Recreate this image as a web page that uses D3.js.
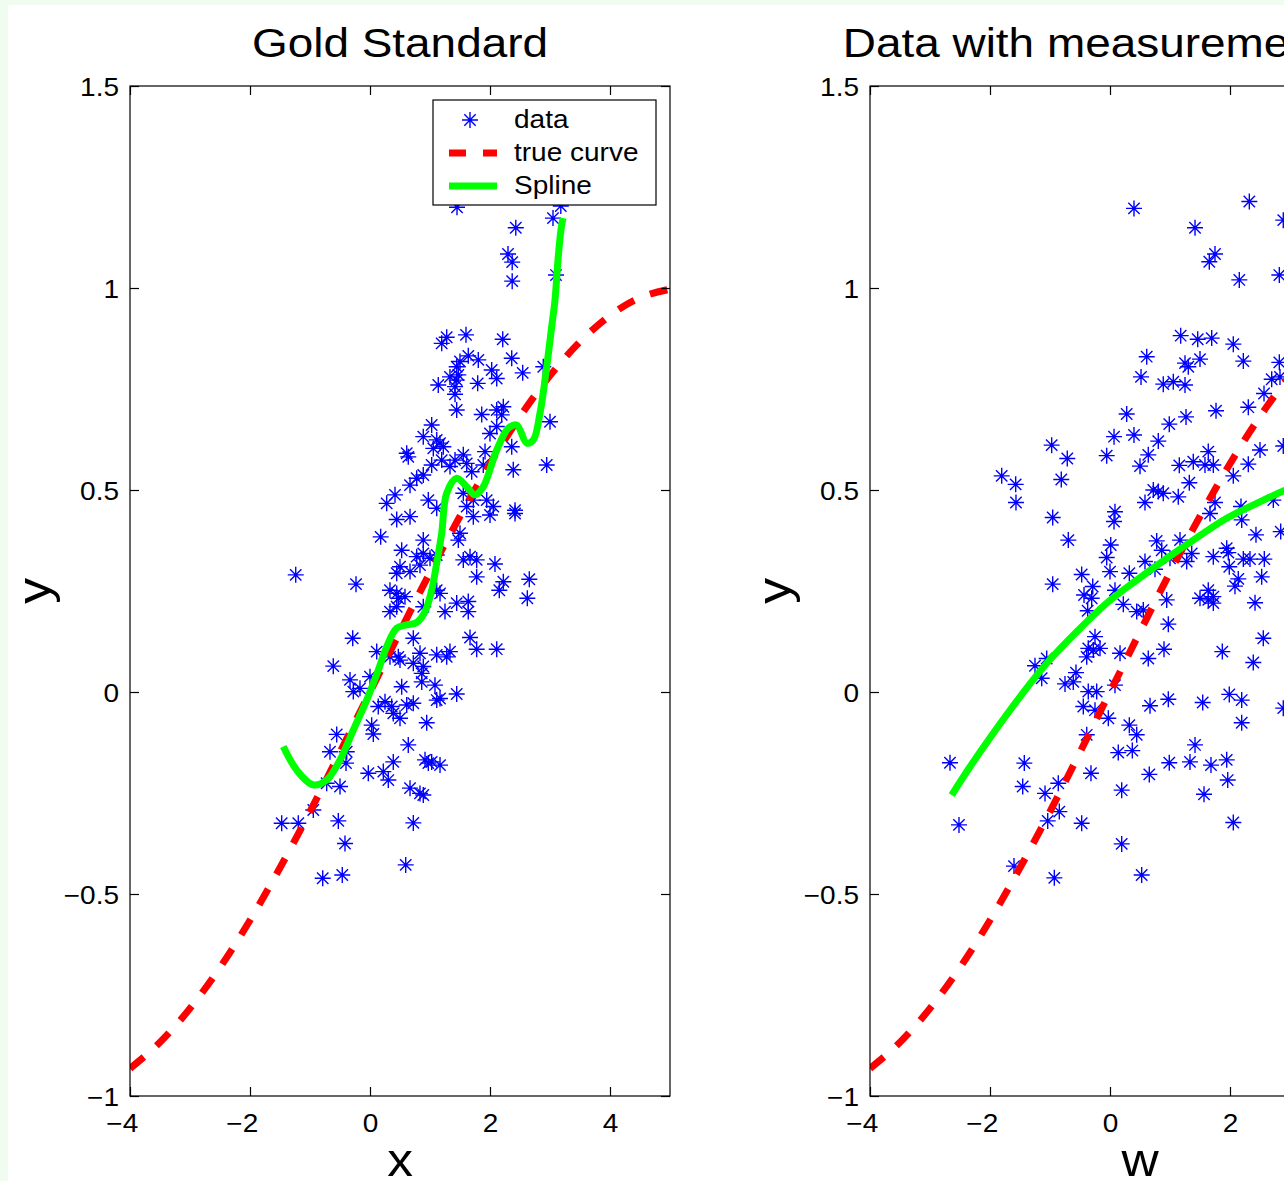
<!DOCTYPE html>
<html>
<head>
<meta charset="utf-8">
<script src="https://cdn.jsdelivr.net/npm/d3@7/dist/d3.min.js"></script>
<style>
  body { margin: 0; background: #f0fcf0; overflow: hidden; }
  svg { display: block; }
  text { font-family: "Liberation Sans", Arial, sans-serif; fill: #000; }
</style>
</head>
<body>
<div id="chart"></div>
<script>
// values
var xTicks = [-4, -2, 0, 2, 4];
var xTickLabels = ["\u22124", "\u22122", "0", "2", "4"];
var yTicks = [-1, -0.5, 0, 0.5, 1, 1.5];
var yTickLabels = ["\u22121", "\u22120.5", "0", "0.5", "1", "1.5"];

var legendNames = ["data", "true curve", "Spline"];

// true curve, same in both panels
var trueX = [-4, -3.5, -3, -2.5, -2, -1.5, -1, -0.5, 0, 0.5, 1, 1.5, 2, 2.5, 3, 3.5, 4, 4.5, 5];
var trueY = [-0.932, -0.867, -0.783, -0.682, -0.565, -0.435, -0.296, -0.149, 0, 0.149, 0.296, 0.435,
    0.565, 0.682, 0.783, 0.867, 0.932, 0.976, 0.997];

// left panel: x, y
var goldData = [
    [1.45, 1.20], [2.43, 1.149], [2.30, 1.084], [2.37, 1.064], [2.37, 1.017], [3.05, 1.173], [3.10, 1.032], [3.18, 1.203],
    [1.278, 0.878], [1.195, 0.863], [1.60, 0.884], [2.212, 0.873], [1.50, 0.818], [1.638, 0.832], [1.805, 0.822],
    [1.445, 0.805], [2.028, 0.797], [2.112, 0.776], [2.362, 0.826], [2.545, 0.790], [2.888, 0.805], [1.333, 0.780],
    [1.445, 0.772], [1.472, 0.785], [1.417, 0.756], [1.138, 0.760], [1.795, 0.764], [1.417, 0.737], [1.445, 0.698],
    [1.862, 0.687], [2.112, 0.698], [2.222, 0.706], [2.195, 0.686], [1.028, 0.661], [0.888, 0.632], [1.112, 0.624],
    [1.167, 0.616], [1.222, 0.607], [1.055, 0.603], [2.0, 0.640], [2.112, 0.657], [2.362, 0.607], [3.0, 0.669],
    [0.612, 0.591], [0.638, 0.582], [1.555, 0.587], [1.612, 0.566], [1.417, 0.574], [1.917, 0.595], [1.888, 0.562],
    [1.028, 0.562], [1.195, 0.574], [1.333, 0.558], [2.388, 0.550], [2.945, 0.562], [0.888, 0.537], [0.778, 0.529],
    [0.667, 0.512], [1.695, 0.545], [0.278, 0.467], [0.417, 0.488], [0.445, 0.427], [0.667, 0.434], [0.972, 0.475],
    [1.112, 0.455], [1.555, 0.492], [1.722, 0.475], [1.612, 0.459], [1.945, 0.475], [2.055, 0.459], [2.0, 0.438],
    [1.722, 0.434], [2.417, 0.450], [2.417, 0.442], [0.178, 0.384], [0.528, 0.351], [0.888, 0.376], [1.472, 0.376],
    [1.50, 0.393], [0.778, 0.335], [0.888, 0.343], [1.0, 0.331], [1.112, 0.339], [0.50, 0.310], [0.667, 0.298],
    [0.445, 0.294], [0.833, 0.314], [1.555, 0.327], [1.667, 0.335], [1.778, 0.327], [2.083, 0.317], [1.778, 0.285],
    [2.222, 0.273], [2.155, 0.252], [2.655, 0.279], [2.622, 0.232], [-1.238, 0.290], [-0.233, 0.267], [0.333, 0.252],
    [0.445, 0.244], [0.472, 0.232], [0.583, 0.236], [0.333, 0.199], [0.445, 0.211], [1.112, 0.252], [1.167, 0.244],
    [1.25, 0.199], [1.445, 0.220], [1.638, 0.224], [1.638, 0.199], [0.888, 0.211], [0.722, 0.133], [-0.288, 0.133],
    [0.112, 0.100], [0.333, 0.087], [0.472, 0.087], [0.50, 0.079], [0.833, 0.096], [0.722, 0.071], [0.888, 0.063],
    [1.112, 0.092], [1.278, 0.087], [1.333, 0.100], [1.667, 0.135], [1.778, 0.106], [2.112, 0.106], [-0.612, 0.064],
    [-0.333, 0.030], [-0.278, 0.001], [-0.167, 0.009], [0.0, 0.038], [0.862, 0.046], [0.862, 0.025], [0.528, 0.013],
    [1.083, 0.017], [1.112, -0.020], [1.167, -0.016], [1.445, -0.005], [0.25, -0.024], [0.138, -0.036], [0.362, -0.036],
    [0.50, -0.065], [0.388, -0.053], [0.612, -0.032], [0.722, -0.028], [0.945, -0.076], [0.028, -0.082], [0.055, -0.104],
    [-0.555, -0.105], [0.638, -0.131], [-0.667, -0.148], [-0.388, -0.148], [-0.40, -0.176], [0.388, -0.173],
    [0.917, -0.168], [1.028, -0.173], [1.167, -0.181], [0.972, -0.176], [-0.028, -0.201], [0.222, -0.197],
    [0.305, -0.218], [-0.50, -0.234], [-0.722, -0.226], [0.667, -0.238], [0.833, -0.251], [0.888, -0.255],
    [-0.945, -0.292], [-1.472, -0.325], [-1.195, -0.325], [-0.528, -0.319], [0.722, -0.324], [-0.417, -0.375],
    [0.595, -0.428], [-0.788, -0.461], [-0.462, -0.453]
];

var goldSpline = [
    [-1.445, -0.135], [-1.222, -0.193], [-0.945, -0.230], [-0.722, -0.218], [-0.5, -0.168], [-0.278, -0.094],
    [-0.055, -0.020], [0.138, 0.054], [0.278, 0.112], [0.445, 0.158], [0.612, 0.166], [0.778, 0.172], [0.917, 0.199],
    [1.028, 0.252], [1.112, 0.319], [1.195, 0.393], [1.278, 0.492], [1.445, 0.529], [1.612, 0.508], [1.75, 0.488],
    [1.888, 0.508], [2.112, 0.599], [2.305, 0.653], [2.445, 0.661], [2.612, 0.616], [2.722, 0.624], [2.833, 0.690],
    [2.945, 0.805], [3.028, 0.904], [3.083, 0.970], [3.133, 1.069], [3.183, 1.144], [3.217, 1.173]
];

// right panel: w, y
var errData = [
    [0.40, 1.197], [2.322, 1.214], [2.888, 1.168], [1.417, 1.149], [1.75, 1.084], [1.655, 1.065], [2.155, 1.020],
    [2.822, 1.032], [1.178, 0.882], [1.462, 0.873], [1.695, 0.876], [2.055, 0.861], [0.612, 0.830], [1.25, 0.814],
    [1.305, 0.805], [1.50, 0.824], [2.222, 0.819], [2.822, 0.816], [0.517, 0.780], [0.888, 0.762], [1.055, 0.768],
    [1.25, 0.760], [2.695, 0.774], [2.833, 0.780], [2.567, 0.739], [0.278, 0.688], [0.988, 0.663], [1.267, 0.681],
    [1.767, 0.696], [2.305, 0.705], [0.067, 0.632], [0.40, 0.636], [0.805, 0.621], [-0.055, 0.585], [0.638, 0.587],
    [0.50, 0.559], [-0.972, 0.611], [-0.712, 0.578], [-0.812, 0.526], [-1.805, 0.535], [-1.572, 0.514], [1.155, 0.561],
    [1.388, 0.570], [1.638, 0.595], [1.583, 0.562], [1.722, 0.562], [1.322, 0.518], [2.055, 0.535], [2.305, 0.564],
    [2.50, 0.599], [2.888, 0.609], [0.722, 0.500], [0.805, 0.496], [0.888, 0.492], [1.138, 0.483],
    [-1.567, 0.469], [-0.955, 0.432], [-0.695, 0.376], [0.083, 0.446], [0.067, 0.422], [0.583, 0.469], [1.75, 0.469],
    [1.667, 0.442], [2.183, 0.459], [2.195, 0.426], [2.433, 0.389], [2.845, 0.397], [2.722, 0.475], [0.012, 0.364],
    [-0.055, 0.333], [0.0, 0.298], [-0.472, 0.291], [-0.288, 0.261], [-0.433, 0.240], [-0.305, 0.232], [-0.372, 0.201],
    [-0.955, 0.267], [0.322, 0.294], [0.583, 0.323], [0.75, 0.304], [0.083, 0.252], [0.222, 0.217], [0.445, 0.199],
    [0.555, 0.203], [0.778, 0.374], [0.862, 0.351], [1.0, 0.331], [1.167, 0.376], [1.362, 0.343], [1.278, 0.323],
    [0.945, 0.228], [0.972, 0.168], [0.90, 0.106], [0.638, 0.083], [1.722, 0.335], [1.945, 0.356], [1.972, 0.345],
    [2.222, 0.329], [2.333, 0.329], [2.572, 0.329], [1.988, 0.310], [2.138, 0.280], [2.083, 0.262], [2.528, 0.285],
    [1.50, 0.232], [1.638, 0.252], [1.722, 0.236], [1.638, 0.228], [1.722, 0.220], [2.417, 0.221], [2.555, 0.133],
    [2.388, 0.073], [1.872, 0.100], [-1.25, 0.065], [-1.055, 0.083], [-1.138, 0.034], [-0.567, 0.048], [-0.75, 0.020],
    [-0.612, 0.025], [-0.25, 0.137], [-0.362, 0.108], [-0.278, 0.104], [-0.388, 0.087], [-0.167, 0.108], [0.167, 0.096],
    [0.083, 0.017], [-0.362, 0.001], [-0.222, 0.001], [-0.445, -0.036], [-0.25, -0.045], [-0.028, -0.065],
    [-0.388, -0.106], [0.322, -0.082], [0.445, -0.106], [0.667, -0.034], [0.972, -0.018], [1.545, -0.026],
    [1.988, -0.006], [2.195, -0.020], [2.195, -0.076], [2.888, -0.040], [1.417, -0.131], [0.138, -0.150],
    [0.372, -0.145], [-2.667, -0.175], [-1.428, -0.176], [0.988, -0.175], [1.333, -0.173], [1.683, -0.181],
    [1.945, -0.168], [1.962, -0.218], [0.655, -0.204], [-0.317, -0.201], [-1.455, -0.234], [-1.083, -0.251],
    [-0.862, -0.226], [0.195, -0.243], [1.567, -0.253], [-0.845, -0.296], [-1.038, -0.319], [-0.472, -0.325],
    [-2.517, -0.329], [2.055, -0.323], [0.195, -0.376], [-1.60, -0.431], [-0.928, -0.460], [0.528, -0.453]
];

var errSpline = [
    [-2.638, -0.255], [-2.333, -0.185], [-1.945, -0.102], [-1.5, -0.012], [-1.055, 0.071], [-0.555, 0.149],
    [-0.055, 0.220], [0.445, 0.277], [0.945, 0.331], [1.388, 0.376], [1.945, 0.430], [2.445, 0.467], [2.9, 0.498],
    [3.2, 0.515]
];

var W = 1284, H = 1181;
var plotW = 540, plotH = 1010, plotTop = 86;
var sx = 1.12; // reference text is a bit wider than Arial

var svg = d3.select("#chart").append("svg")
    .attr("width", W)
    .attr("height", H);

svg.append("rect")
    .attr("x", 8).attr("y", 5)
    .attr("width", W).attr("height", H)
    .attr("fill", "#fff");

var starPath = "M-8,0H8M0,-8V8M-5.7,-5.7L5.7,5.7M-5.7,5.7L5.7,-5.7";

function label(g, x, y, str, size, anchor, rot) {
    return g.append("text")
        .attr("transform", "translate(" + x + "," + y + ")" + (rot ? " rotate(-90)" : "") + " scale(" + sx + ",1)")
        .attr("text-anchor", anchor)
        .style("font-size", size + "px")
        .text(str);
}

var drawPanel = function(left, id, title, xName, points, spline, withLegend) {
    var g = svg.append("g").attr("transform", "translate(" + left + "," + plotTop + ")");

    var xScale = d3.scaleLinear().domain([-4, 5]).range([0, plotW]);
    var yScale = d3.scaleLinear().domain([-1, 1.5]).range([plotH, 0]);

    g.append("clipPath").attr("id", id)
        .append("rect").attr("width", plotW).attr("height", plotH);

    var inner = g.append("g").attr("clip-path", "url(#" + id + ")");

    // data stars
    inner.selectAll("path.star")
        .data(points)
        .enter().append("path")
        .attr("class", "star")
        .attr("d", starPath)
        .attr("transform", function(d) { return "translate(" + xScale(d[0]) + "," + yScale(d[1]) + ")"; })
        .attr("fill", "none")
        .attr("stroke", "#0000ff")
        .attr("stroke-width", 1.4);

    // true curve
    var trueLine = d3.line()
        .x(function(d) { return xScale(d); })
        .y(function(d, i) { return yScale(trueY[i]); })
        .curve(d3.curveNatural);

    inner.append("path")
        .attr("d", trueLine(trueX))
        .attr("fill", "none")
        .attr("stroke", "#ff0000")
        .attr("stroke-width", 7)
        .attr("stroke-dasharray", "18,17");

    // spline
    var splineLine = d3.line()
        .x(function(d) { return xScale(d[0]); })
        .y(function(d) { return yScale(d[1]); })
        .curve(d3.curveCatmullRom);

    inner.append("path")
        .attr("d", splineLine(spline))
        .attr("fill", "none")
        .attr("stroke", "#00ff00")
        .attr("stroke-width", 7)
        .attr("stroke-linejoin", "round");

    // box
    g.append("rect")
        .attr("width", plotW).attr("height", plotH)
        .attr("fill", "none")
        .attr("stroke", "#000")
        .attr("stroke-width", 1.2);

    var xAxis = d3.axisBottom(xScale).tickValues(xTicks).tickSize(-9)
        .tickFormat(function(d, i) { return xTickLabels[i]; });
    var yAxis = d3.axisLeft(yScale).tickValues(yTicks).tickSize(-9)
        .tickFormat(function(d, i) { return yTickLabels[i]; });

    var gx = g.append("g").attr("transform", "translate(0," + plotH + ")").call(xAxis);
    gx.selectAll("text")
        .attr("y", 36).attr("dy", 0)
        .attr("dx", function(d) { return d < 0 ? -7.3 : 0; })
        .attr("transform", "scale(" + sx + ",1)")
        .style("font-size", "25px");

    var gy = g.append("g").call(yAxis);
    gy.selectAll("text")
        .attr("x", -11 / sx).attr("dy", "0.36em")
        .attr("transform", "scale(" + sx + ",1)")
        .style("font-size", "25px");

    g.append("g").call(d3.axisTop(xScale).tickValues(xTicks).tickSize(-9).tickFormat(""));
    g.append("g").attr("transform", "translate(" + plotW + ",0)")
        .call(d3.axisRight(yScale).tickValues(yTicks).tickSize(-9).tickFormat(""));

    g.selectAll(".domain").remove();
    g.selectAll(".tick line").attr("stroke", "#000").attr("stroke-width", 1.2);
    g.selectAll(".tick text").attr("font-family", null).attr("fill", "#000");

    // titles and labels
    label(g, plotW / 2, 57 - plotTop, title, 41, "middle");
    label(g, plotW / 2, 1176 - plotTop, xName, 46, "middle");
    label(g, -80, plotH / 2, "y", 46, "middle", true);

    if (withLegend) {
        var lg = g.append("g").attr("transform", "translate(" + (433 - left) + "," + (100 - plotTop) + ")");
        lg.append("rect")
            .attr("width", 223).attr("height", 105)
            .attr("fill", "#fff")
            .attr("stroke", "#000")
            .attr("stroke-width", 1.2);
        lg.append("path")
            .attr("d", starPath)
            .attr("transform", "translate(37,20)")
            .attr("fill", "none")
            .attr("stroke", "#0000ff")
            .attr("stroke-width", 1.4);
        lg.append("line")
            .attr("x1", 16).attr("x2", 64).attr("y1", 53).attr("y2", 53)
            .attr("stroke", "#ff0000").attr("stroke-width", 7)
            .attr("stroke-dasharray", "17,17");
        lg.append("line")
            .attr("x1", 16).attr("x2", 64).attr("y1", 86).attr("y2", 86)
            .attr("stroke", "#00ff00").attr("stroke-width", 7);
        legendNames.forEach(function(name, i) {
            label(lg, 81, 28 + i * 33, name, 25, "start");
        });
    }
};

drawPanel(130, "clipGold", "Gold Standard", "x", goldData, goldSpline, true);
drawPanel(870, "clipErr", "Data with measurement error", "w", errData, errSpline, false);
</script>
</body>
</html>
